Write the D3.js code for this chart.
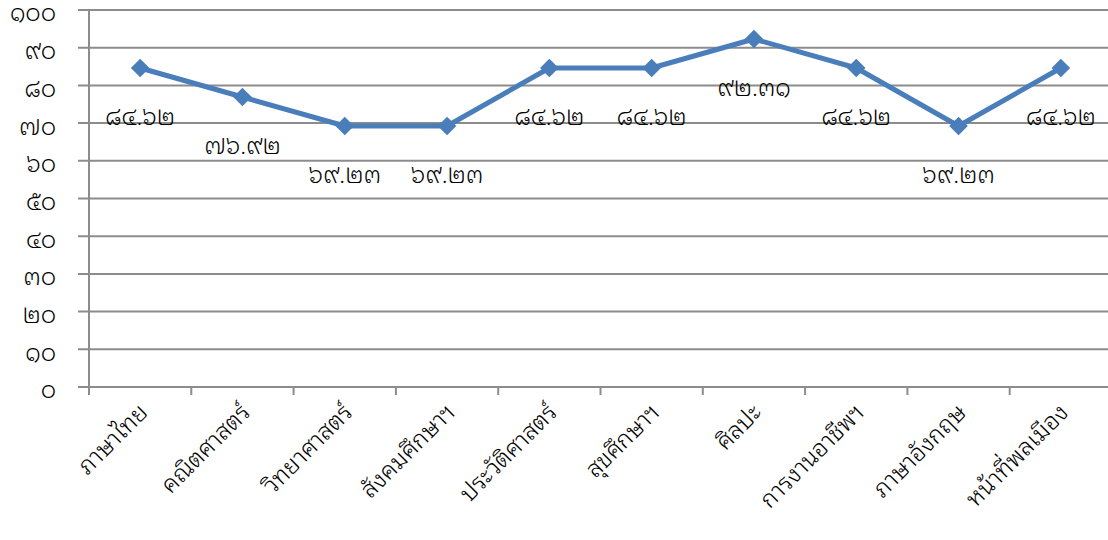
<!DOCTYPE html>
<meta charset="utf-8">
<style>
body { margin: 0; background: #fff; }
svg text { font-family: "Noto Sans Thai Looped", "Noto Sans Thai", sans-serif; font-weight: 300; fill: #000; }
.grid line { stroke: #8c8c8c; stroke-width: 2; }
</style>
<svg width="1108" height="540"></svg>
<script src="https://d3js.org/d3.v7.min.js"></script>
<script>
"use strict";

// data
var subjects = ["ภาษาไทย", "คณิตศาสตร์", "วิทยาศาสตร์", "สังคมศึกษาฯ", "ประวัติศาสตร์",
                "สุขศึกษาฯ", "ศิลปะ", "การงานอาชีพฯ", "ภาษาอังกฤษ", "หน้าที่พลเมือง"];
var scores = [84.62, 76.92, 69.23, 69.23, 84.62, 84.62, 92.31, 84.62, 69.23, 84.62];
var yTicks = [0, 10, 20, 30, 40, 50, 60, 70, 80, 90, 100];

var thaiDigits = "๐๑๒๓๔๕๖๗๘๙";
function toThai(s) {
  return String(s).replace(/[0-9]/g, function(d) { return thaiDigits[+d]; });
}

var svg = d3.select("svg");
var plotL = 89, plotR = 1112, plotT = 10, plotB = 387;

var x = d3.scaleBand().domain(subjects).range([plotL, plotR]);
var y = d3.scaleLinear().domain([0, 100]).range([plotB, plotT]);

// gridlines
var grid = svg.append("g").attr("class", "grid");
grid.selectAll("line.h")
  .data(yTicks)
  .enter().append("line")
    .attr("x1", plotL - 11).attr("x2", plotR)
    .attr("y1", function(d) { return y(d); })
    .attr("y2", function(d) { return y(d); });

// vertical axis line
grid.append("line")
  .attr("x1", plotL).attr("x2", plotL)
  .attr("y1", plotT).attr("y2", plotB + 8);

// x ticks at category boundaries
grid.selectAll("line.t")
  .data(subjects.slice(1))
  .enter().append("line")
    .attr("x1", function(d) { return x(d); })
    .attr("x2", function(d) { return x(d); })
    .attr("y1", plotB).attr("y2", plotB + 8);

svg.append("g").selectAll("text")
  .data(yTicks)
  .enter().append("text")
    .attr("x", 56)
    .attr("y", function(d) { return y(d) + 3; })
    .attr("dy", "0.35em")
    .attr("text-anchor", "end")
    .style("font-size", "24px")
    .text(function(d) { return toThai(d); });

// x labels, rotated
svg.append("g").selectAll("text")
  .data(subjects)
  .enter().append("text")
    .attr("transform", function(d) {
      return "translate(" + (x(d) + x.bandwidth() / 2 + 9) + "," + 414 + ") rotate(-45)";
    })
    .attr("text-anchor", "end")
    .style("font-size", "24px")
    .text(function(d) { return d; });

// line
var pts = subjects.map(function(s, i) { return [x(s) + x.bandwidth() / 2, y(scores[i])]; });

svg.append("path")
  .datum(pts)
  .attr("fill", "none")
  .attr("stroke", "#4a7ebb")
  .attr("stroke-width", 5)
  .attr("stroke-linejoin", "round")
  .attr("d", d3.line());

svg.append("g").selectAll("path")
  .data(pts)
  .enter().append("path")
    .attr("transform", function(d) { return "translate(" + d[0] + "," + d[1] + ")"; })
    .attr("d", d3.symbol().type(d3.symbolDiamond2).size(220))
    .attr("fill", "#4a7ebb");

// value labels
svg.append("g").selectAll("text")
  .data(pts)
  .enter().append("text")
    .attr("x", function(d) { return d[0]; })
    .attr("y", function(d) { return d[1] + 49; })
    .attr("dy", "0.35em")
    .attr("text-anchor", "middle")
    .style("font-size", "24px")
    .text(function(d, i) { return toThai(scores[i].toFixed(2)); });
</script>
